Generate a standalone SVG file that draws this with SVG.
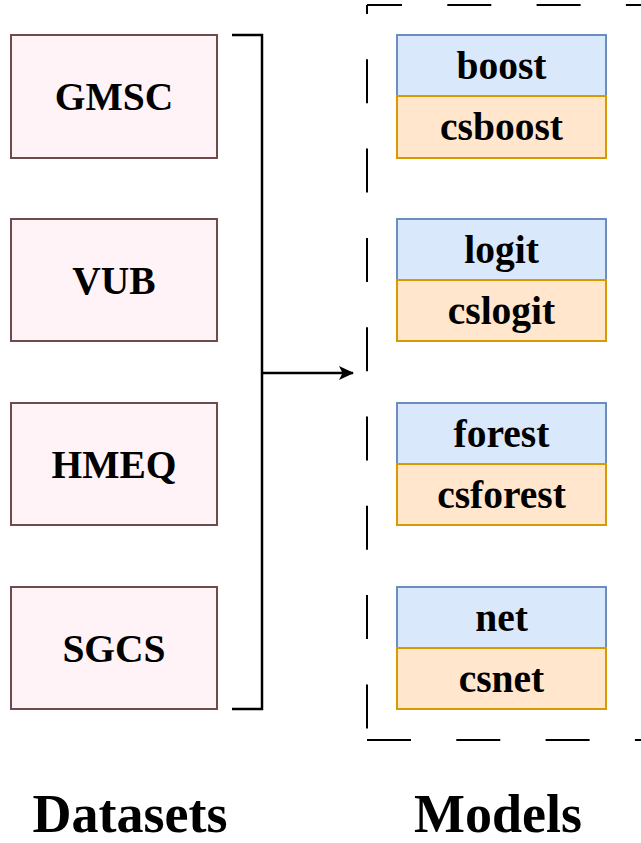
<svg xmlns="http://www.w3.org/2000/svg" width="641" height="843" viewBox="0 0 641 843">
<defs>
<style>
.ds{fill:#fff3f7;stroke:#6e4b4b;stroke-width:2}
.m1{fill:#dae8fc;stroke:#6c8ebf;stroke-width:2}
.m2{fill:#ffe6cc;stroke:#d79b00;stroke-width:2}
.t{font-family:"Liberation Serif","Times New Roman",serif;font-weight:bold;font-size:39.5px;fill:#000;text-anchor:middle}
.big{font-family:"Liberation Serif","Times New Roman",serif;font-weight:bold;font-size:54px;fill:#000;text-anchor:middle}
.ln{fill:none;stroke:#000;stroke-width:2.5}
.dash{fill:none;stroke:#000;stroke-width:2;stroke-dasharray:44 45.3}
</style>
<marker id="arr" viewBox="0 0 15 14" refX="14" refY="7" markerWidth="15" markerHeight="14" markerUnits="userSpaceOnUse" orient="auto">
<path d="M0,0 L15,7 L0,14 L3.5,7 Z" fill="#000"/>
</marker>
</defs>
<rect width="641" height="843" fill="#fff"/>
<g id="ds-gmsc"><rect class="ds" x="11" y="35" width="206" height="123"/><text class="t" x="114" y="110">GMSC</text></g>
<g id="ds-vub"><rect class="ds" x="11" y="219" width="206" height="122"/><text class="t" x="114" y="294">VUB</text></g>
<g id="ds-hmeq"><rect class="ds" x="11" y="403" width="206" height="122"/><text class="t" x="114" y="478">HMEQ</text></g>
<g id="ds-sgcs"><rect class="ds" x="11" y="587" width="206" height="122"/><text class="t" x="114" y="662">SGCS</text></g>
<g id="models-frame">
<line class="dash" x1="367" y1="5" x2="641" y2="5" style="stroke-dashoffset:9"/>
<line class="dash" x1="367" y1="5" x2="367" y2="740" style="stroke-dashoffset:35"/>
<line class="dash" x1="367" y1="740" x2="641" y2="740"/>
</g>
<g id="m-boost"><rect class="m1" x="397" y="35" width="209" height="61"/><text class="t" x="501.5" y="79">boost</text></g>
<g id="m-csboost"><rect class="m2" x="397" y="96" width="209" height="62"/><text class="t" x="501.5" y="140">csboost</text></g>
<g id="m-logit"><rect class="m1" x="397" y="219" width="209" height="61"/><text class="t" x="501.5" y="263">logit</text></g>
<g id="m-cslogit"><rect class="m2" x="397" y="280" width="209" height="61"/><text class="t" x="501.5" y="324">cslogit</text></g>
<g id="m-forest"><rect class="m1" x="397" y="403" width="209" height="61"/><text class="t" x="501.5" y="447">forest</text></g>
<g id="m-csforest"><rect class="m2" x="397" y="464" width="209" height="61"/><text class="t" x="501.5" y="508">csforest</text></g>
<g id="m-net"><rect class="m1" x="397" y="587" width="209" height="61"/><text class="t" x="501.5" y="631">net</text></g>
<g id="m-csnet"><rect class="m2" x="397" y="648" width="209" height="61"/><text class="t" x="501.5" y="692">csnet</text></g>
<g id="connectors">
<path class="ln" d="M232,35 H262 V709 H232"/>
<line class="ln" x1="262" y1="373" x2="353" y2="373" marker-end="url(#arr)"/>
</g>
<g id="labels">
<text class="big" x="130" y="832">Datasets</text>
<text class="big" x="498" y="832">Models</text>
</g>
</svg>
